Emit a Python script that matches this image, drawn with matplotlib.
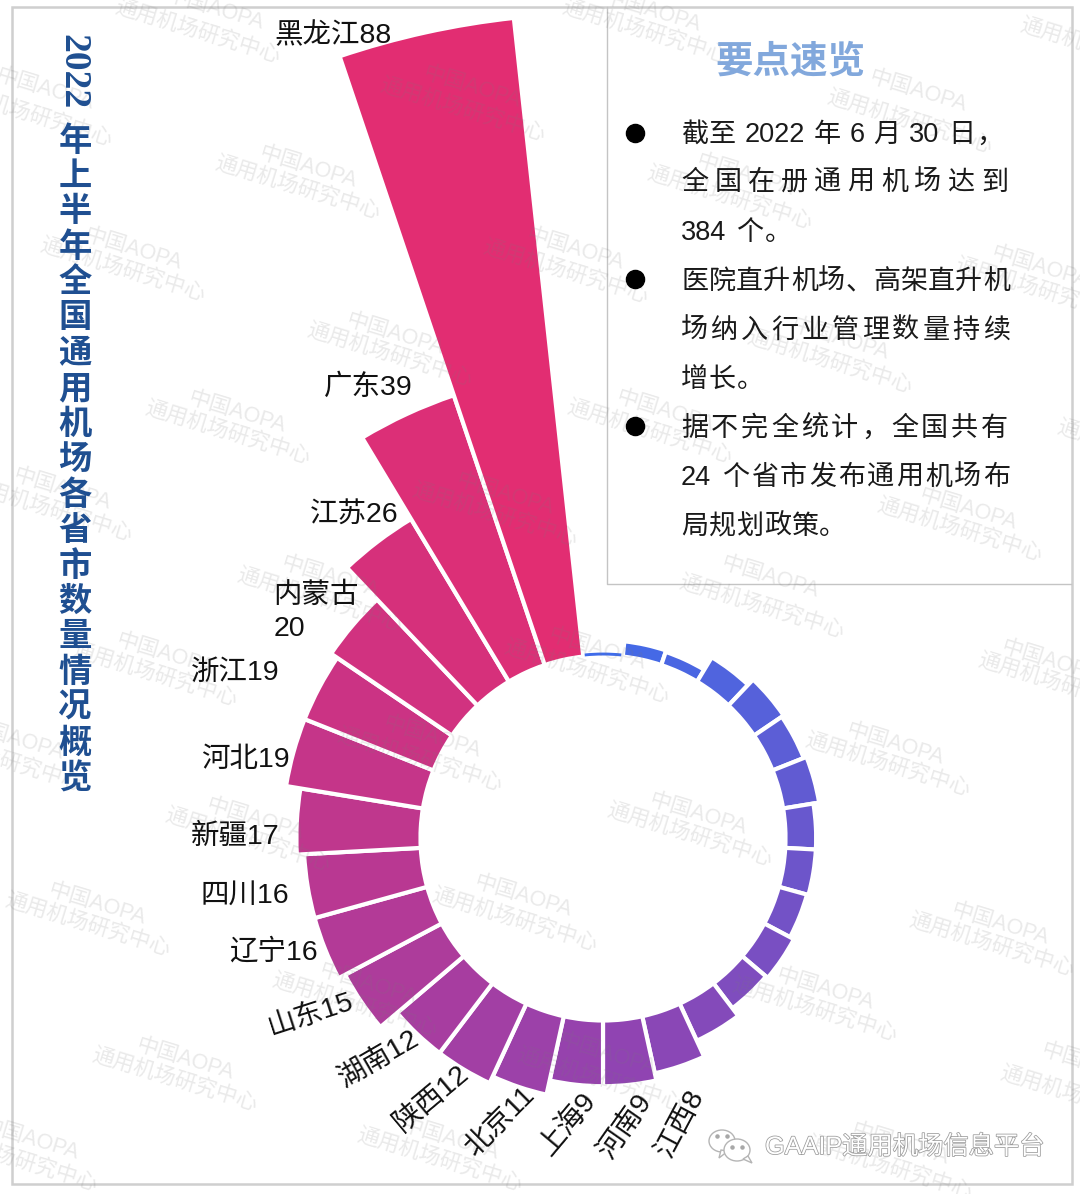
import numpy as np
import matplotlib
matplotlib.use("Agg")
import matplotlib.pyplot as plt
import matplotlib.patheffects as pe
from matplotlib.colors import LinearSegmentedColormap
from matplotlib.patches import Ellipse, Polygon, Rectangle

FONT = ['Liberation Sans', 'Noto Sans CJK SC', 'DejaVu Sans']
plt.rcParams['font.family'] = FONT

# clockwise from 12 o'clock, first 13 bars carry no label in the picture
small_values = [0.4, 2.1, 1.9, 3.9, 4.9, 4.6, 5.0, 4.2, 4.2, 4.0, 4.6, 4.3, 5.6]
provinces = ['江西', '河南', '上海', '北京', '陕西', '湖南', '山东', '辽宁',
             '四川', '新疆', '河北', '浙江', '内蒙古', '江苏', '广东', '黑龙江']
province_values = [8, 9, 9, 11, 12, 12, 15, 16, 16, 17, 19, 19, 20, 26, 39, 88]

label_x = [681, 626, 568, 500, 432, 380, 311, 273, 245, 235, 245, 235, 316, 354, 368, 333]
label_y = [1124, 1127, 1124, 1122, 1098, 1060, 1016, 952, 896, 837, 760, 673, 612, 515, 388, 36]
label_rot = [62, 55, 50, 45, 40, 30, 18, 0, 0, 0, 0, 0, 0, 0, 0, 0]

title_chars = '年上半年全国通用机场各省市数量情况概览'

panel_title = '要点速览'
bullet_y = [133, 279, 426]
# text, y, right edge of the last character box
panel_lines = [
    ('截至 2022 年 6 月 30 日，', 133, 1003),
    ('全国在册通用机场达到', 181, 1008),
    ('384 个。', 231, 792),
    ('医院直升机场、高架直升机', 280, 1010),
    ('场纳入行业管理数量持续', 329, 1010),
    ('增长。', 378, 764),
    ('据不完全统计，全国共有', 427, 1008),
    ('24 个省市发布通用机场布', 476, 1010),
    ('局规划政策。', 525, 846),
]

# watermark centres: (中国AOPA) and (通用机场研究中心)
mark_top = [(215, 10), (652, 12), (45, 90), (472, 88), (918, 92), (308, 168), (745, 176),
            (133, 250), (575, 250), (1040, 268), (395, 335), (840, 340), (237, 413),
            (665, 412), (505, 495), (968, 510), (62, 490), (330, 578),
            (770, 578), (165, 655), (597, 650), (1050, 662), (432, 738), (895, 745),
            (15, 740), (255, 820), (698, 815), (97, 905), (523, 897), (1000, 925),
            (368, 985), (825, 990), (185, 1060), (607, 1055), (1090, 1065), (450, 1140),
            (30, 1140), (900, 1145)]
mark_low = [(198, 32), (645, 32), (1103, 50), (30, 115), (463, 110), (910, 122), (298, 188), (730, 198),
            (123, 270), (566, 272), (1038, 290), (390, 355), (830, 362), (228, 433),
            (650, 432), (1140, 452), (495, 515), (960, 530), (50, 510), (320, 600),
            (762, 607), (155, 675), (587, 672), (1061, 685), (420, 760), (888, 765),
            (0, 760), (248, 840), (690, 835), (88, 925), (515, 920), (992, 945),
            (355, 1005), (815, 1010), (175, 1080), (600, 1080), (1083, 1098), (440, 1160),
            (15, 1160), (890, 1168)]

W, H = 1080, 1194
fig = plt.figure(figsize=(W / 100, H / 100), dpi=100, facecolor='white')

# polar part, axes sized so 1 unit = 7.3 px around the centre of the ring
cx, cy, R = 603, 838, 850
ax = fig.add_axes([(cx - R) / W, 1 - (cy + R) / H, 2 * R / W, 2 * R / H], projection='polar')
ax.set_theta_zero_location('N')
ax.set_theta_direction(-1)
ax.set_ylim(0, R / 7.3)
ax.axis('off')

values = small_values + province_values
n = len(values)
theta = np.arange(n) * 2 * np.pi / n
cmap = LinearSegmentedColormap.from_list('ring', ['#3f6cea', '#9044b2', '#e22d72'])
colors = [cmap(i / (n - 1)) for i in range(n)]
# white outline would swallow the thinnest bar, so that one goes without
ax.bar(theta[1:], values[1:], width=2 * np.pi / n, bottom=25.0, color=colors[1:],
       edgecolor='white', linewidth=3)
ax.bar(theta[0], values[0], width=2 * np.pi / n * 0.92, bottom=25.0, color=colors[0], linewidth=0)

# everything else in picture pixels
top = fig.add_axes([0, 0, 1, 1])
top.set_xlim(0, W)
top.set_ylim(H, 0)
top.axis('off')
top.patch.set_alpha(0)

top.add_patch(Rectangle((12, 7), 1060, 1177, fill=False, edgecolor='#cfcfcf', linewidth=1.8))
top.plot([607, 607, 1071], [7, 584, 584], color='#c4c4c4', linewidth=1)

for (x, y) in mark_top:
    top.text(x, y, '中国AOPA', fontsize=15.5, color='#7a7a7a', alpha=0.16, rotation=-17,
             rotation_mode='anchor', ha='center', va='center', clip_on=True)
for (x, y) in mark_low:
    top.text(x, y, '通用机场研究中心', fontsize=15.5, color='#7a7a7a', alpha=0.16, rotation=-17,
             rotation_mode='anchor', ha='center', va='center', clip_on=True)

for i in range(len(provinces)):
    s = provinces[i] + str(province_values[i])
    if provinces[i] == '内蒙古':
        s = provinces[i] + '\n' + str(province_values[i])
    top.text(label_x[i], label_y[i], s, fontsize=20.5, color='#111111', rotation=label_rot[i],
             rotation_mode='anchor', ha='center', va='center', multialignment='left', linespacing=1.35)

# vertical title, digits turned on their side
top.text(73, 72, '2022', fontsize=27, fontweight='bold', family='Liberation Serif', color='#1f4f91',
         rotation=-90, ha='center', va='center')
for i, c in enumerate(title_chars):
    top.text(75, 142 + i * 35.4, c, fontsize=24, fontweight='bold', color='#1f4f91',
             ha='center', va='center')

top.text(790, 62, panel_title, fontsize=27, fontweight='bold', color='#82a8dc', ha='center', va='center')
top.scatter([635] * len(bullet_y), bullet_y, s=170, color='black', zorder=5)


def tokens(s):
    # digit groups stay together, spaces kept as their own token
    out = []
    cur = ''
    for c in s:
        if c.isdigit():
            cur += c
            continue
        if cur:
            out.append(cur)
            cur = ''
        out.append(c)
    if cur:
        out.append(cur)
    return out


renderer = fig.canvas.get_renderer()
for line, y, x1 in panel_lines:
    toks = tokens(line)
    items = []
    widths = []
    for t in toks:
        if t == ' ':
            items.append(None)
            widths.append(7)
            continue
        it = top.text(0, y + 2, t, fontsize=19.5, color='#1a1a1a', ha='left', va='center')
        items.append(it)
        if t in '，。、':
            widths.append(27)
        else:
            widths.append(it.get_window_extent(renderer).width)
    gap = (x1 - 681 - sum(widths)) / max(len(items) - 1, 1)
    x = 681
    for it, w in zip(items, widths):
        if it is not None:
            it.set_x(x)
        x += w + gap

# footer with the wechat mark
foot = top.text(765, 1147, 'GAAIP通用机场信息平台', fontsize=18.2, color='white', ha='left', va='center')
foot.set_path_effects([pe.Stroke(linewidth=1.1, foreground='#9a9a9a'), pe.Normal()])
top.add_patch(Ellipse((722, 1141), 26, 22, facecolor='white', edgecolor='#b5b5b5', linewidth=1))
top.add_patch(Polygon([(721, 1150), (719, 1158), (728, 1151)], facecolor='white', edgecolor='#b5b5b5', linewidth=1))
top.add_patch(Ellipse((737, 1150), 26, 22, facecolor='white', edgecolor='#b5b5b5', linewidth=1))
top.add_patch(Polygon([(743, 1159), (752, 1163), (748, 1156)], facecolor='white', edgecolor='#b5b5b5', linewidth=1))
top.scatter([717, 727, 732, 742], [1136, 1136, 1147, 1147], s=5, color='#a8a8a8', zorder=6)

fig.savefig('out.png', dpi=100, facecolor='white')
